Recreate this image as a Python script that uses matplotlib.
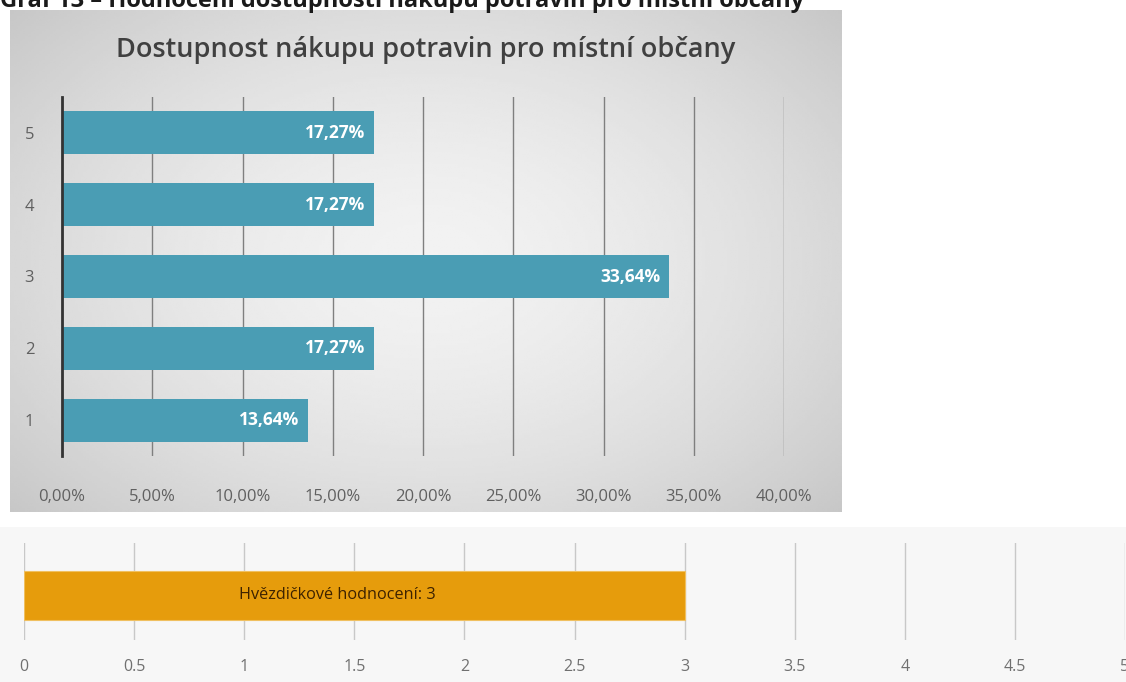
import numpy as np
import matplotlib.pyplot as plt
from matplotlib.ticker import FuncFormatter

# data
categories = ['1', '2', '3', '4', '5']
shares = [13.64, 17.27, 33.64, 17.27, 17.27]
pct_ticks = [0, 5, 10, 15, 20, 25, 30, 35, 40]

rating_label = 'Hvězdičkové hodnocení'
rating_value = 3
rating_ticks = [0, 0.5, 1, 1.5, 2, 2.5, 3, 3.5, 4, 4.5, 5]

caption = 'Graf 13 – Hodnocení dostupnosti nákupu potravin pro místní občany'
title = 'Dostupnost nákupu potravin pro místní občany'

W, H = 1126, 682
FONT = ['Open Sans', 'DejaVu Sans']


def fx(px):
    return px / W


def fy(py):
    return 1 - py / H


fig = plt.figure(figsize=(W / 100, H / 100), dpi=100)
fig.patch.set_facecolor('white')

# caption cut at the top edge (as in the source page)
fig.text(fx(0), fy(7), caption, fontsize=17, fontweight='bold',
         family=FONT, color='#1a1a1a', ha='left', va='baseline')

# gradient panel behind the upper chart
bg = fig.add_axes([fx(10), fy(512), fx(842) - fx(10), fy(10) - fy(512)])
yy, xx = np.mgrid[-1:1:200j, -1:1:300j]
r = np.sqrt(xx ** 2 + (yy * 0.9) ** 2)
shade = 0.95 - 0.17 * np.clip(r / 1.35, 0, 1) ** 1.6
bg.imshow(shade, cmap='gray', vmin=0, vmax=1, aspect='auto',
          extent=[0, 1, 0, 1], interpolation='bilinear')
bg.set_axis_off()

fig.text((fx(10) + fx(842)) / 2, fy(50), title, fontsize=19.5,
         fontweight='semibold', family=FONT,
         color='#404040', ha='center', va='center')

# upper bar chart
ax = fig.add_axes([fx(62), fy(456), fx(784) - fx(62), fy(97) - fy(456)])
ax.set_facecolor('none')
ypos = np.arange(1, len(categories) + 1)
ax.barh(ypos, shares, height=0.6, color='#4a9db4', zorder=3)
for y, v in zip(ypos, shares):
    ax.text(v - 0.5, y, f'{v:.2f}%'.replace('.', ','), ha='right',
            va='center', color='white', fontsize=12.5, fontweight='bold',
            family=FONT, zorder=4)
ax.set_xlim(0, 40)
ax.set_ylim(0.5, 5.5)
ax.set_xticks(pct_ticks)
ax.xaxis.set_major_formatter(FuncFormatter(lambda v, p: f'{v:.2f}%'.replace('.', ',')))
ax.set_yticks(ypos)
ax.set_yticklabels(categories)
ax.grid(axis='x', color='#7f7f7f', linewidth=1, zorder=0)
for s in ['top', 'right', 'bottom']:
    ax.spines[s].set_visible(False)
ax.spines['left'].set_color('#333333')
ax.spines['left'].set_linewidth(2)
ax.spines['left'].set_zorder(5)
ax.tick_params(axis='both', length=0, labelsize=12, labelcolor='#606060')
ax.tick_params(axis='x', pad=24)
ax.tick_params(axis='y', pad=20)
for lab in ax.get_xticklabels() + ax.get_yticklabels():
    lab.set_family(FONT)

# lower strip with the star rating
strip = fig.add_axes([0, 0, 1, fy(527)])
strip.set_axis_off()
strip.add_patch(plt.Rectangle((0, 0), 1, 1, transform=strip.transAxes,
                              facecolor='#f7f7f7', edgecolor='none'))

ax2 = fig.add_axes([fx(24), fy(640), fx(1125) - fx(24), fy(543) - fy(640)])
ax2.set_facecolor('none')
ax2.barh([0.46], [rating_value], height=0.5, color='#e69c0c',
         edgecolor='#f0c060', linewidth=0.8, zorder=3)
ax2.text(rating_value / 2 - 0.075, 0.46, f'{rating_label}: {rating_value}',
         ha='center', va='center', fontsize=11.7, color='#3d2200',
         family=FONT, zorder=4)
ax2.set_xlim(0, 5)
ax2.set_ylim(0, 1)
ax2.set_xticks(rating_ticks)
ax2.set_xticklabels([f'{t:g}' for t in rating_ticks])
ax2.set_yticks([])
ax2.grid(axis='x', color='#c8c8c8', linewidth=1, zorder=0)
for s in ax2.spines.values():
    s.set_visible(False)
ax2.tick_params(axis='x', length=0, labelsize=11.5, labelcolor='#707070', pad=14)
for lab in ax2.get_xticklabels():
    lab.set_family(FONT)

fig.savefig('out.png', dpi=100)
